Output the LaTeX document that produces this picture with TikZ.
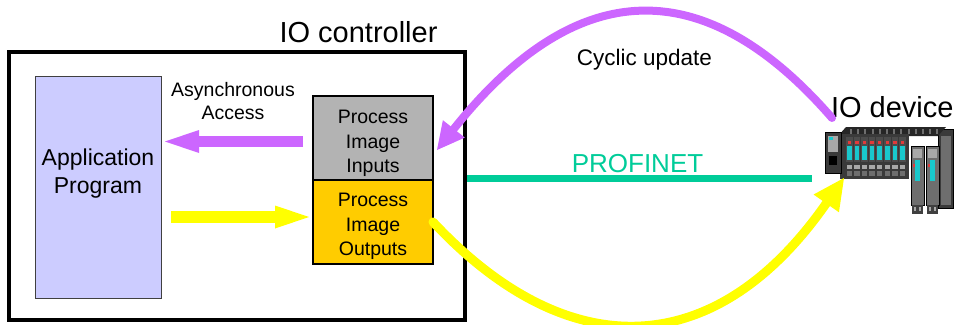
\documentclass[tikz,border=0pt]{standalone}
\usepackage{fontspec}
\setmainfont{Liberation Sans}
\usetikzlibrary{arrows.meta}

\definecolor{appfill}{HTML}{CCCCFF}
\definecolor{infill}{HTML}{B3B3B3}
\definecolor{outfill}{HTML}{FFCC00}
\definecolor{cycpurple}{HTML}{CC66FF}
\definecolor{wireyellow}{HTML}{FFFF00}
\definecolor{netgreen}{HTML}{00CC99}
\definecolor{devdark}{HTML}{3A3A3A}
\definecolor{devmid}{HTML}{6E6E6E}
\definecolor{devlight}{HTML}{A8A8A8}
\definecolor{devcyan}{HTML}{19C8CC}
\definecolor{devred}{HTML}{E23A3A}

\tikzset{
  box/.style={draw, inner sep=0pt, outer sep=0pt},
  ctrlbox/.style={box, line width=3.5pt, minimum width=456pt, minimum height=268pt},
  appbox/.style={box, draw=black!75, line width=1pt, fill=appfill, minimum width=126pt, minimum height=222pt},
  imgbox/.style={box, line width=1.2pt, minimum width=120pt, minimum height=84pt},
  devbox/.style={inner sep=0pt, outer sep=0pt, minimum width=130pt, minimum height=89pt},
  txt/.style={inner sep=0pt, outer sep=0pt, align=center},
  blockarrow/.style={line width=#1, -{Triangle[length=34pt, width=23pt, line width=0pt]}},
  cycarrow/.style={draw=cycpurple, line width=8pt, line cap=round,
    -{Triangle[length=27pt, width=28pt, line width=0pt]}},
  wirearrow/.style={draw=wireyellow, line width=9pt, line cap=round,
    -{Triangle[length=31pt, width=31pt, line width=0pt]}},
  netline/.style={draw=netgreen, line width=7pt}
}

\begin{document}
\begin{tikzpicture}[x=1pt, y=-1pt]
\useasboundingbox (0,0) rectangle (955,324);
\clip (0,0) rectangle (955,324);

% controller frame and its inner blocks
\node[ctrlbox] (ctrl) at (237,186) {};
\node[appbox] (app) at (98,187) {};
\node[imgbox, fill=infill] (pin) at (373,138) {};
\node[imgbox, fill=outfill] (pout) at (373,222) {};

% labels
\node[txt, anchor=base, font=\fontsize{29}{34}\selectfont] (ctrllbl) at (358.5,42) {IO controller};
\node[txt, font=\fontsize{23}{27.5}\selectfont] (applbl) at (98,173.5) {Application\\Program};
\node[txt, font=\fontsize{19.5}{24.3}\selectfont] (pinlbl) at (373,143.5) {Process\\Image\\Inputs};
\node[txt, font=\fontsize{19.5}{24.3}\selectfont] (poutlbl) at (373,226.5) {Process\\Image\\Outputs};
\node[txt, font=\fontsize{19.5}{23.5}\selectfont] (asynclbl) at (233,101) {Asynchronous\\Access};
\node[txt, anchor=base, font=\fontsize{22.5}{27}\selectfont] (cyclbl) at (644.5,65.5) {Cyclic update};
\node[txt, anchor=base, text=netgreen, font=\fontsize{26}{31}\selectfont] (netlbl) at (637.5,172) {PROFINET};
\node[txt, anchor=base west, font=\fontsize{29}{34}\selectfont] (devlbl) at (831,117) {IO device};

% IO device (rack with modules)
\node[devbox] (dev) at (890,172.5) {};
\begin{scope}
  % right end cap
  \fill[devdark] (938,129) rectangle (953,208);
  \fill[devmid] (941,136) rectangle (951,205);
  \draw[black, line width=0.8pt] (938,129) rectangle (953,208);
  % top face of the rack
  \fill[black!85] (846,127) -- (946,127) -- (938,136) -- (838,136) -- cycle;
  \foreach \i in {0,...,12} {
    \fill[devmid] ({850+7.2*\i},129) rectangle ({852+7.2*\i},134);
  }
  % I/O module block
  \fill[devdark] (840,134) rectangle (909,179);
  \foreach \i in {0,...,7} {
    \fill[black!70] ({846+7.6*\i},137) rectangle ({852.5+7.6*\i},162);
    \fill[devcyan] ({847+7.6*\i},146) rectangle ({851.5+7.6*\i},160);
    \fill[devred] ({847.5+7.6*\i},141) rectangle ({851+7.6*\i},144);
    \fill[devlight] ({846.5+7.6*\i},165) rectangle ({852+7.6*\i},169);
    \fill[devmid] ({846.5+7.6*\i},171) rectangle ({852+7.6*\i},176);
  }
  % interface module on the left
  \fill[devdark] (825,132) rectangle (841,173);
  \fill[devlight] (828,136) rectangle (838,152);
  \fill[devcyan] (829,137) rectangle (833,140);
  \fill[black] (829,156) rectangle (837,165);
  \draw[black, line width=0.6pt] (825,132) rectangle (841,173);
  % two tall modules on the right
  \foreach \mx in {911,926} {
    \fill[devmid] (\mx,146) rectangle ({\mx+13},205);
    \fill[devlight] ({\mx+2},149) rectangle ({\mx+11},158);
    \fill[devcyan] ({\mx+4},160) rectangle ({\mx+9},181);
    \fill[devred] ({\mx+2},164) rectangle ({\mx+4},167);
    \draw[black, line width=0.7pt] (\mx,146) rectangle ({\mx+13},205);
    \fill[black!75] ({\mx+1},205) rectangle ({\mx+12},214);
    \fill[devlight] ({\mx+3},207) rectangle ({\mx+5},211);
    \fill[devlight] ({\mx+8},207) rectangle ({\mx+10},211);
  }
\end{scope}

% network line
\draw[netline] ([xshift=2pt]ctrl.east |- 0,178) -- ([xshift=-13pt]dev.west |- 0,178);

% asynchronous access arrows
\coordinate (asyncstart) at ([shift={(-10,3.5)}]pin.west);
\draw[blockarrow=11pt, draw=cycpurple, fill=cycpurple] (asyncstart) -- ([xshift=4pt]app.east |- asyncstart);
\coordinate (writestart) at ([xshift=10pt]app.east |- 0,217);
\draw[blockarrow=12pt, draw=wireyellow, fill=wireyellow] (writestart) -- ([xshift=-4pt]pout.west |- writestart);

% cyclic update arcs
\coordinate (cycsrc) at (832,118);
\coordinate (cyctip) at (437,150);
\draw[cycarrow] (cycsrc) .. controls (706,-27) and (578,-27) .. (cyctip);
\coordinate (wiretip) at (844,178);
\draw[wirearrow] (pout.east) .. controls (566,364) and (714,364) .. (wiretip);
\end{tikzpicture}
\end{document}
